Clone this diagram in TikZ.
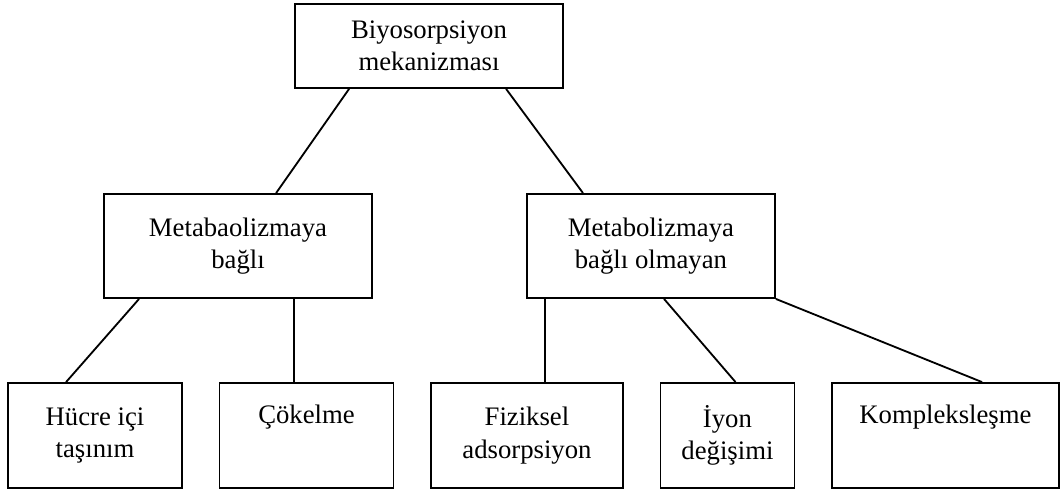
\documentclass[tikz,border=0pt]{standalone}
\usepackage{fontspec}
\setmainfont{Liberation Serif}
\usetikzlibrary{positioning}

\begin{document}
\begin{tikzpicture}[
    x=0.025cm, y=-0.025cm,
    node distance=0.89cm,
    box/.style={draw, line width=1.3pt, align=center, inner sep=0pt, font=\fontsize{19}{23}\selectfont, minimum height=2.625cm},
    conn/.style={line width=1.3pt},
]
\useasboundingbox (0,0) rectangle (1061,492);

% Top
\node[box, minimum width=6.7cm, minimum height=2.1cm] (root) at (429,46) {Biyosorpsiyon\\mekanizması};

% Middle row
\node[box, minimum width=6.7cm, minimum height=2.6cm] (meta) at (238,246) {Metabaolizmaya\\bağlı};
\node[box, minimum width=6.2cm, minimum height=2.6cm, right=3.825cm of meta] (nonmeta) {Metabolizmaya\\bağlı olmayan};

% Bottom row
\node[box, minimum width=4.35cm] (hucre) at (95,435.5) {Hücre içi\\taşınım};
\node[box, minimum width=4.35cm, right=of hucre] (cokelme) {Çökelme\\\strut};
\node[box, minimum width=4.8cm, right=of cokelme] (fiziksel) {Fiziksel\\adsorpsiyon};
\node[box, minimum width=3.35cm, right=of fiziksel] (iyon) {İyon\\değişimi};
\node[box, minimum width=5.675cm, right=of iyon] (kompleks) {Kompleksleşme\\\strut};

% Connectors
\draw[conn] ([xshift=1.375cm]root.south west) -- ([xshift=4.325cm]meta.north west);
\draw[conn] ([xshift=5.3cm]root.south west) -- ([xshift=1.425cm]nonmeta.north west);
\draw[conn] ([xshift=0.9cm]meta.south west) -- ([xshift=1.475cm]hucre.north west);
\draw[conn] ([xshift=4.775cm]meta.south west) coordinate (c1) -- (c1 |- cokelme.north);
\draw[conn] ([xshift=0.475cm]nonmeta.south west) coordinate (c2) -- (c2 |- fiziksel.north);
\draw[conn] ([xshift=3.45cm]nonmeta.south west) -- ([xshift=1.9cm]iyon.north west);
\draw[conn] (nonmeta.south east) -- ([xshift=3.775cm]kompleks.north west);

\end{tikzpicture}
\end{document}
